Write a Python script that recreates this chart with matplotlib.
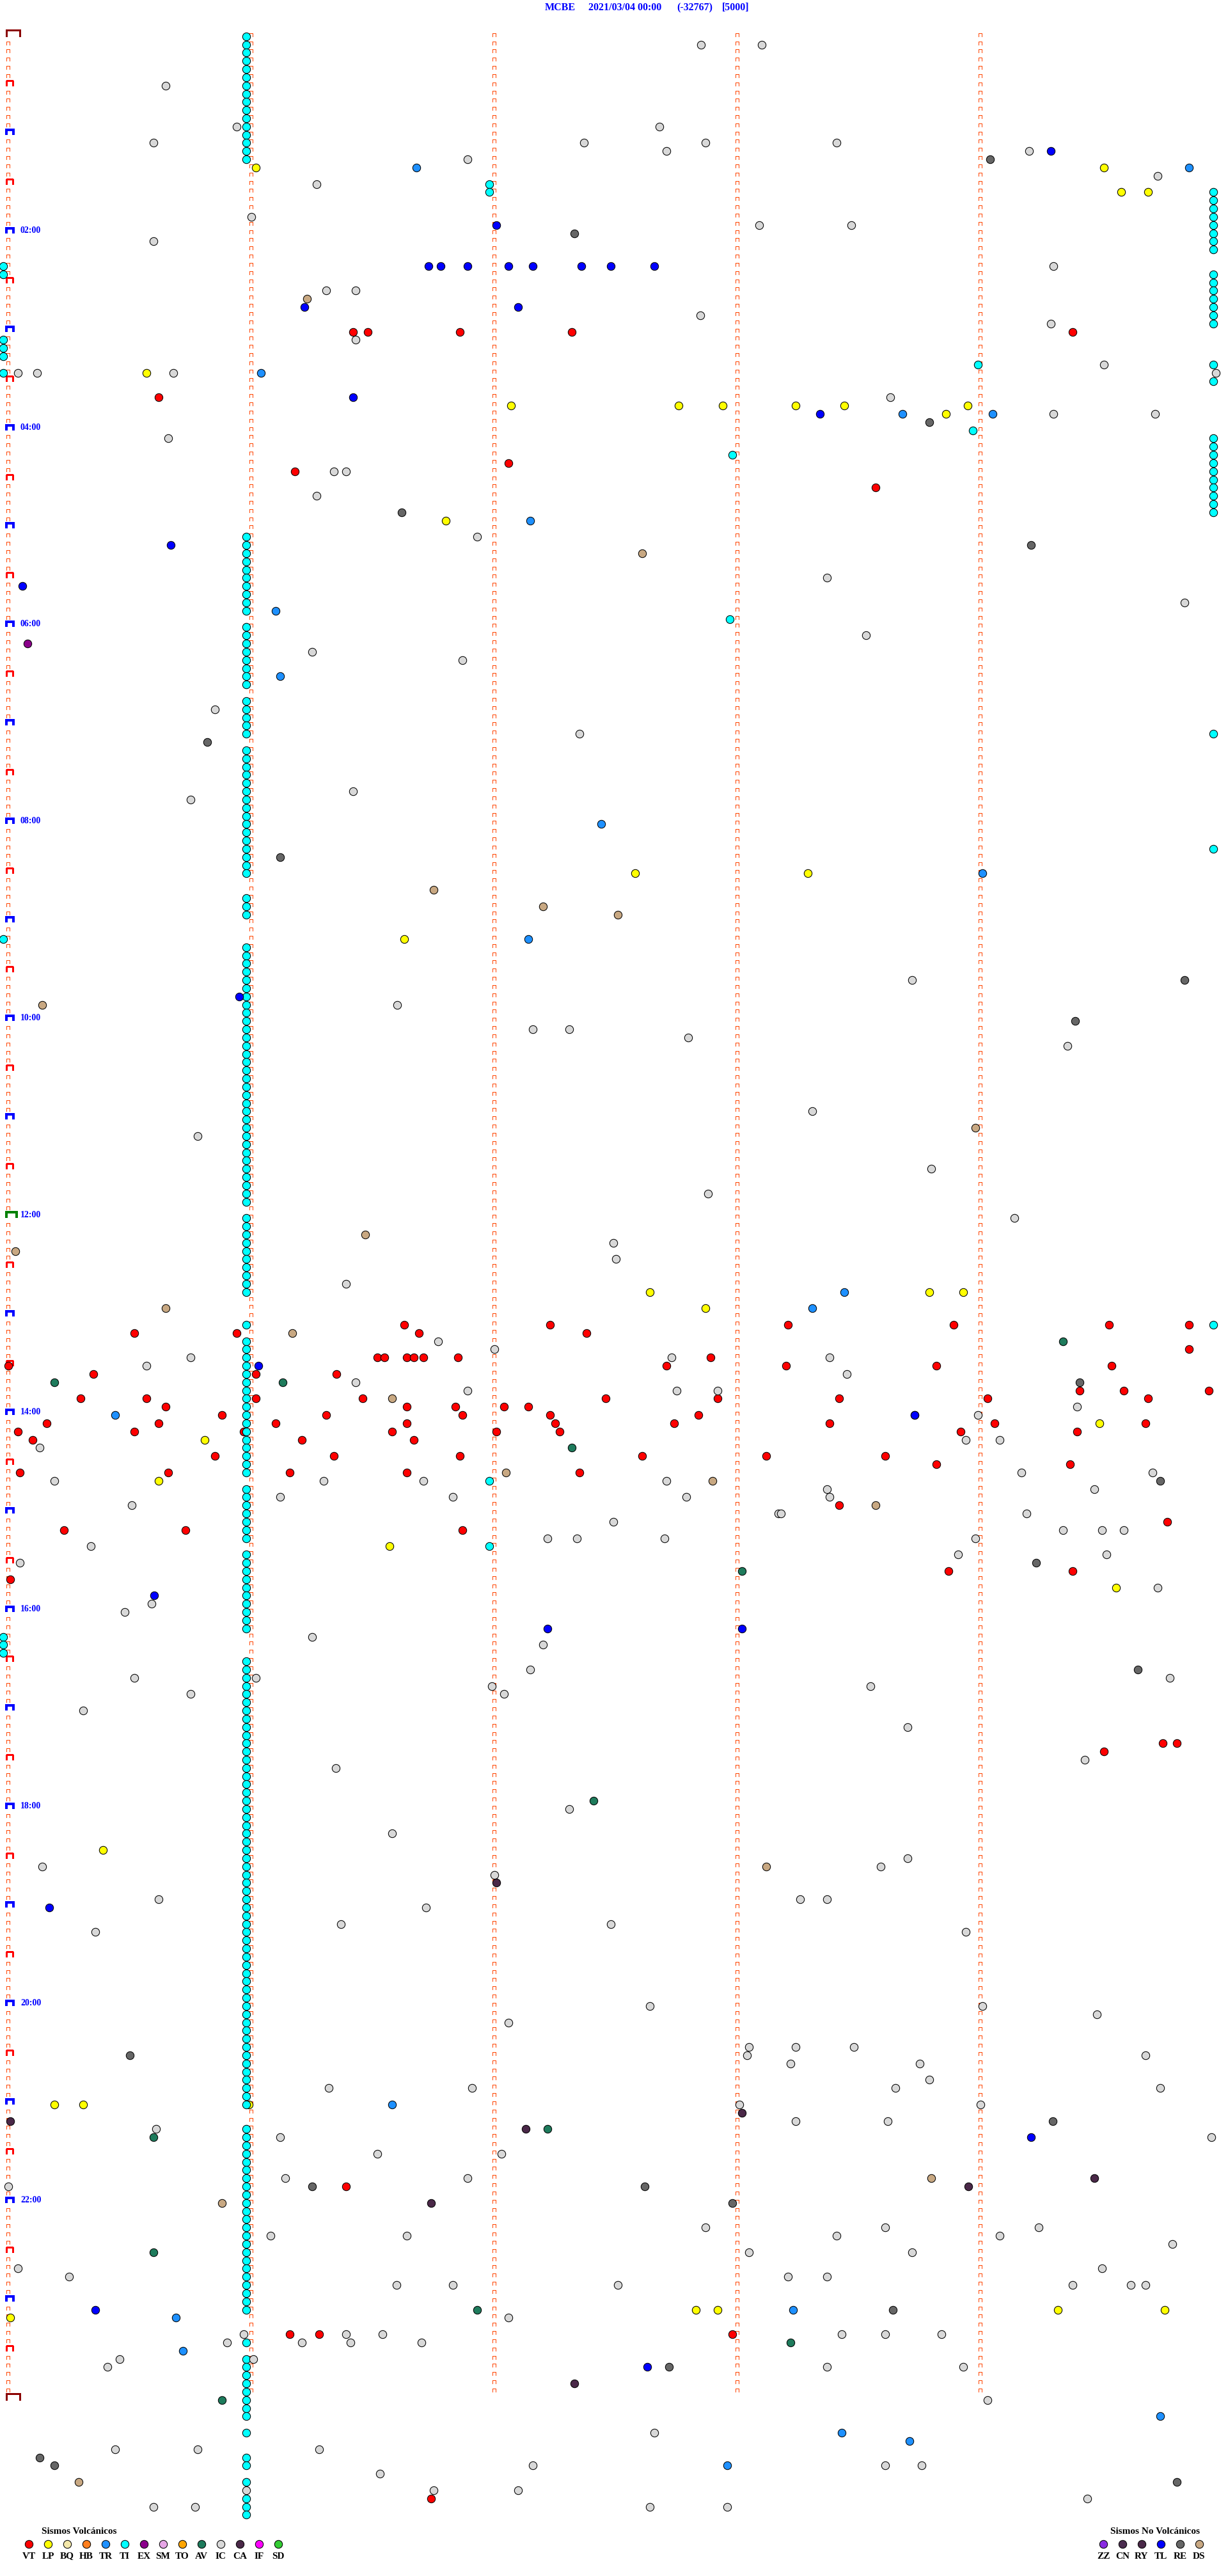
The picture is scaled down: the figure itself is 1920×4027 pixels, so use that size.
import numpy as np
import matplotlib
matplotlib.use("Agg")
import matplotlib.pyplot as plt
from matplotlib.collections import LineCollection

# Eventos del dia, en minutos desde 2021/03/04 00:00 (una lista por tipo)
vt = [181.42, 181.48, 181.86, 182.32, 184.38, 220.62, 262.06, 266.18, 278.57,
      786.63, 787.23, 788.21, 788.89, 789.53, 789.86, 790.52, 790.94, 791.69, 792.38,
      804.86, 806.52, 806.55, 806.64, 806.67, 806.71, 806.85, 807.89,
      810.00, 812.71, 813.20, 813.82, 814.54, 815.35, 816.02, 816.35,
      829.41, 829.59, 829.94, 830.30, 830.57, 831.02, 831.46, 832.46, 832.92, 833.42, 834.03, 834.69,
      835.65, 836.64, 836.84, 837.04, 837.14, 840.88, 841.31, 841.87, 842.23, 842.84, 843.73,
      845.16, 845.62, 846.10, 846.64, 847.25, 847.74, 848.38, 849.06, 849.68,
      850.04, 850.52, 850.97, 851.58, 852.01, 852.27, 853.92, 854.40, 855.10, 856.21, 856.67,
      865.85, 866.34, 866.86, 867.61, 868.12, 868.61, 873.82, 874.37,
      875.05, 875.66, 876.16, 876.64, 877.35, 898.42, 909.77, 910.23, 910.73, 911.87,
      938.87, 939.38, 940.01, 1044.75, 1044.81, 1049.51, 1311.39, 1401.16, 1401.28, 1402.98, 1501.74]
lp = [81.02, 84.51, 99.58, 99.69, 205.57, 227.07, 227.76, 227.94, 228.24, 228.44, 228.95, 233.86,
      296.80, 512.58, 513.29, 551.63, 767.64, 768.79, 768.93, 777.87, 849.49, 855.81, 880.62,
      921.57, 949.56, 1105.39, 1260.19, 1260.31, 1260.99, 1387.83, 1387.92, 1389.32, 1389.76, 1390.01]
bq = []
hb = []
tr = [81.68, 84.86, 206.04, 233.68, 234.05, 297.15, 351.10, 391.12, 482.44, 514.01, 552.14,
      768.44, 778.31, 840.44, 1261.58, 1388.23, 1390.69, 1410.72, 1454.74, 1463.43, 1468.71, 1482.96]
ti = [0.98, 5.98, 10.98, 15.98, 20.98, 25.98, 30.98, 35.98, 40.98, 45.98, 50.98, 55.98,
      60.98, 65.98, 70.98, 75.98, 91.98, 96.98,
      99.96, 104.96, 109.96, 114.96, 119.96, 124.96, 129.96, 134.96,
      139.98, 144.98, 149.96, 154.96, 159.96, 164.96, 169.96, 174.96, 179.96,
      184.98, 189.98, 194.98, 203.99, 204.96, 204.98, 214.96, 243.97,
      249.96, 254.96, 259.96, 264.96, 269.96, 274.96, 279.96, 284.96, 289.96, 294.96, 257.98,
      305.98, 310.98, 315.98, 320.98, 325.98, 330.98, 335.98, 340.98, 345.98, 350.98, 357.97,
      360.98, 365.98, 370.98, 375.98, 380.98, 385.98, 390.98, 395.98,
      405.98, 410.98, 415.98, 420.98, 425.98, 429.96, 435.98, 440.98, 445.98, 450.98,
      455.98, 460.98, 465.98, 470.98, 475.98, 480.98, 485.98, 490.98, 495.98, 499.96, 500.98,
      505.98, 510.98, 525.98, 530.98, 535.98, 549.98,
      555.98, 560.98, 565.98, 570.98, 575.98, 580.98, 585.98, 590.98, 595.98, 600.98,
      605.98, 610.98, 615.98, 620.98, 625.98, 630.98, 635.98, 640.98, 645.98, 650.98,
      655.98, 660.98, 665.98, 670.98, 675.98, 680.98, 685.98, 690.98, 695.98, 700.98,
      705.98, 710.98, 720.98, 725.98, 730.98, 735.98, 740.98, 745.98, 750.98, 755.98,
      760.98, 765.98, 785.98, 789.96, 795.98, 800.98, 805.98, 810.98, 815.98, 820.98,
      825.98, 830.98, 835.98, 840.98, 845.98, 850.98, 855.98, 860.98, 865.98, 870.98,
      875.98, 881.98, 885.98, 890.98, 895.98, 900.98, 905.98, 910.98, 915.98, 921.98,
      925.98, 930.98, 935.98, 940.98, 945.98, 950.98, 955.98, 960.98, 965.98, 970.98,
      974.98, 979.98, 984.98,
      990.98, 995.98, 1000.98, 1005.98, 1010.98, 1015.98, 1020.98, 1025.98, 1030.98, 1035.98,
      1040.98, 1045.98, 1050.98, 1055.98, 1060.98, 1065.98, 1070.98, 1075.98, 1080.98, 1085.98,
      1090.98, 1095.98, 1100.98, 1105.98, 1110.98, 1115.98, 1120.98, 1125.98, 1130.98, 1135.98,
      1140.98, 1145.98, 1150.98, 1155.98, 1160.98, 1165.98, 1170.98, 1175.98, 1180.98, 1185.98,
      1190.98, 1195.98, 1200.98, 1205.98, 1210.98, 1215.98, 1220.98, 1225.98, 1230.98, 1235.98,
      1240.98, 1245.98, 1250.98, 1255.98, 1260.98,
      1275.98, 1280.98, 1285.98, 1290.98, 1295.98, 1300.98, 1305.98, 1310.98, 1315.98, 1320.98,
      1325.98, 1330.98, 1335.98, 1340.98, 1345.98, 1350.98, 1355.98, 1360.98, 1365.98, 1370.98,
      1375.98, 1380.98, 1385.98, 1405.98, 1415.98, 1420.98, 1425.98, 1430.98, 1435.98, 1440.98,
      1445.98, 1450.98, 1460.98, 1475.98, 1480.98, 1490.98, 1500.98, 1505.98, 1510.98]
ex = [370.08]
sm = []
to = []
av = [799.34, 820.19, 821.13, 862.32, 938.02, 1077.41, 1277.22, 1280.60, 1350.60, 1386.93,
      1408.22, 1440.88]
ic = [7.85, 8.10, 30.65, 55.94, 57.68, 65.60, 67.37, 67.87, 68.41, 72.71, 74.20, 76.89, 89.73,
      91.27, 111.00, 118.09, 118.47, 125.60, 144.30, 156.31, 156.43, 172.85, 179.29, 186.43,
      204.51, 205.04, 205.12, 205.68, 209.97, 223.63, 234.30, 234.72, 245.66, 266.34, 266.39,
      281.27, 306.93, 333.37, 349.84, 368.53, 376.25, 381.87, 410.85, 427.35, 461.42, 465.75,
      578.72, 591.60, 607.16, 607.31, 612.80, 619.36, 658.31, 670.78, 693.80, 707.88, 724.14,
      737.49, 747.50, 761.39, 796.77, 802.00, 805.75, 807.73, 808.38, 810.57, 818.45, 821.43,
      826.89, 827.75, 827.92, 839.40, 843.99, 858.94, 859.08, 860.13, 879.17, 879.71, 880.19,
      881.30, 881.71, 882.71, 888.37, 889.47, 891.12, 891.83, 892.79, 893.38, 895.51, 903.17,
      903.18, 904.19, 907.49, 914.34, 914.50, 914.59, 917.22, 917.34, 917.70, 918.98, 920.34,
      928.91, 929.52, 930.05, 949.73, 955.59, 960.48, 976.25, 982.20, 997.15, 1000.52, 1001.02,
      1004.78, 1006.99, 1008.55, 1010.75, 1012.04, 1020.31, 1033.70, 1054.43, 1056.35, 1082.31,
      1096.58, 1113.70, 1115.14, 1118.59, 1122.00, 1135.62, 1138.26, 1138.37, 1141.72, 1151.37,
      1152.48, 1155.36, 1158.94, 1202.64, 1204.01, 1209.48, 1212.06, 1228.05, 1228.24, 1228.48,
      1233.04, 1234.68, 1238.22, 1238.75, 1248.79, 1251.32, 1251.91, 1253.65, 1254.74, 1263.01,
      1264.00, 1273.24, 1273.62, 1275.61, 1281.12, 1284.95, 1291.52, 1292.03, 1306.14, 1306.89,
      1310.00, 1337.87, 1338.61, 1339.24, 1341.08, 1341.64, 1343.41, 1344.08, 1349.79, 1353.05,
      1353.72, 1360.04, 1364.50, 1365.25, 1368.21, 1368.37, 1371.60, 1371.83, 1372.51, 1374.38,
      1374.62, 1374.68, 1392.06, 1400.97, 1401.39, 1401.54, 1403.43, 1403.61, 1403.84, 1405.90,
      1406.21, 1406.41, 1406.70, 1415.46, 1416.01, 1420.41, 1423.37, 1423.93, 1444.03, 1462.66,
      1470.44, 1470.78, 1471.28, 1482.16, 1483.61, 1483.76, 1486.53, 1495.98, 1496.75, 1497.10,
      1504.44, 1505.60, 1505.77, 1507.64, 1507.96]
ca = [1127.01, 1268.02, 1270.01, 1277.13, 1309.47, 1313.95, 1321.74, 1432.33]
inf = []
sd = []
zz = []
cn = []
ry = []
tl = [74.29, 117.01, 141.73, 141.78, 141.89, 142.06, 142.16, 142.36, 142.48, 142.66, 166.22,
      167.10, 221.42, 233.34, 310.67, 335.06, 585.95, 811.03, 843.73, 950.60, 972.22, 973.02,
      1140.17, 1284.21, 1385.36, 1422.63]
re = [79.04, 122.33, 238.79, 291.62, 314.21, 430.82, 501.12, 579.84, 604.39, 824.41, 884.74,
      934.23, 999.65, 1230.50, 1274.30, 1311.25, 1312.62, 1322.98, 1388.64, 1422.72, 1475.13,
      1480.19, 1494.81]
ds = [161.23, 317.61, 521.75, 532.20, 537.51, 590.14, 668.98, 731.47, 740.03, 775.65, 791.17,
      831.58, 877.05, 882.90, 898.57, 1118.12, 1308.80, 1320.88, 1490.29]

tipos_volc = ["VT", "LP", "BQ", "HB", "TR", "TI", "EX", "SM", "TO", "AV", "IC", "CA", "IF", "SD"]
tipos_novolc = ["ZZ", "CN", "RY", "TL", "RE", "DS"]
eventos = {"VT": vt, "LP": lp, "BQ": bq, "HB": hb, "TR": tr, "TI": ti, "EX": ex, "SM": sm,
           "TO": to, "AV": av, "IC": ic, "CA": ca, "IF": inf, "SD": sd,
           "ZZ": zz, "CN": cn, "RY": ry, "TL": tl, "RE": re, "DS": ds}
colores = {"VT": "#FF0000", "LP": "#FFFF00", "BQ": "#F3E7A9", "HB": "#FF7F1E", "TR": "#1E90FF",
           "TI": "#00FFFF", "EX": "#8B008B", "SM": "#E6A6E6", "TO": "#FFA500", "AV": "#1E7B5C",
           "IC": "#D8D8D8", "CA": "#4A2848", "IF": "#FF00FF", "SD": "#33CC33",
           "ZZ": "#8A2BE2", "CN": "#4B2D4F", "RY": "#4A2848", "TL": "#0000FF", "RE": "#666666",
           "DS": "#C8A882"}

estacion = "MCBE"
fecha = "2021/03/04 00:00"
escala = "(-32767)"
ganancia = "[5000]"

MIN_LINEA = 5      # minutos por linea del registro
N_LINEAS = 288     # 24 h

plt.rcParams['font.family'] = ['Liberation Serif', 'DejaVu Serif']

W, H = 1920, 4027
X0, PXM = 12.5, 380.0    # pixel del minuto 0 y pixeles por minuto
Y0, PXL = 56.7, 12.83    # pixel de la linea 0 y pixeles por linea

fig = plt.figure(figsize=(W / 100, H / 100), dpi=100)
ax = fig.add_axes([0, 0, 1, 1])
ax.set_xlim(-X0 / PXM, (W - X0) / PXM)
ax.set_ylim((H - Y0) / PXL, -Y0 / PXL)
ax.axis("off")

# marcas de cada linea (5 columnas, una por minuto)
segs, cols, lws = [], [], []
for r in range(N_LINEAS + 1):
    for k in range(5):
        if r == N_LINEAS and k > 0:
            continue
        xl, w, h, c, lw = k + (10.2 - X0) / PXM, 5, 5, "#FF4500", 1.0
        if k == 0:
            if r % N_LINEAS == 0:
                w, h, c, lw = 21, 10, "#8B0000", 2.6
            elif r == 144:
                w, h, c, lw = 16, 9, "#008000", 2.2
            elif r % 12 == 0:
                w, h, c, lw = 11, 8, "#0000FF", 2.2
            elif r % 6 == 0:
                w, h, c, lw = 10, 8, "#FF0000", 1.2
            if w > 5:
                xl = (9.5 - X0) / PXM
        wd, hd = w / PXM, h / PXL
        segs.append([(xl, r), (xl, r - hd), (xl + wd, r - hd), (xl + wd, r)])
        cols.append(c)
        lws.append(lw * 0.72)
ax.add_collection(LineCollection(segs, colors=cols, linewidths=lws, zorder=1,
                                 capstyle="butt", joinstyle="miter", antialiased=False))

for hora in range(2, 24, 2):
    ax.text((32 - X0) / PXM, hora * 12 - 4.5 / PXL, f"{hora:02d}:00", color="#0000FF",
            fontsize=10, fontweight="bold", ha="left", va="center", zorder=2)

# eventos
for tipo in tipos_volc + tipos_novolc:
    t = np.array(eventos[tipo], dtype=float)
    if t.size == 0:
        continue
    linea = np.floor((t + 0.025) / MIN_LINEA)
    minuto = t - linea * MIN_LINEA
    ax.plot(minuto, linea, "o", ls="none", ms=8.9, mfc=colores[tipo], mec="black",
            mew=0.75, zorder=3)

# titulo y leyendas en pixeles
lay = fig.add_axes([0, 0, 1, 1])
lay.set_xlim(0, W)
lay.set_ylim(H, 0)
lay.axis("off")

for txt, xp in zip([estacion, fecha, escala, ganancia], [852, 920, 1058, 1129]):
    lay.text(xp, 12.5, txt, color="#0000FF", fontsize=11.5, fontweight="bold",
             ha="left", va="center")

lay.text(124, 3957, "Sismos Volcánicos", fontsize=11, fontweight="bold", ha="center", va="center")
for i, tipo in enumerate(tipos_volc):
    lay.plot(45 + 30 * i, 3977, "o", ms=8.9, mfc=colores[tipo], mec="black", mew=0.75)
    lay.text(45 + 30 * i, 3996, tipo, fontsize=11, fontweight="bold", ha="center", va="center")

lay.text(1806, 3957, "Sismos No Volcánicos", fontsize=11, fontweight="bold", ha="center", va="center")
for i, tipo in enumerate(tipos_novolc):
    lay.plot(1725 + 30 * i, 3977, "o", ms=8.9, mfc=colores[tipo], mec="black", mew=0.75)
    lay.text(1725 + 30 * i, 3996, tipo, fontsize=11, fontweight="bold", ha="center", va="center")

fig.savefig("out.png", dpi=100, facecolor="white")
